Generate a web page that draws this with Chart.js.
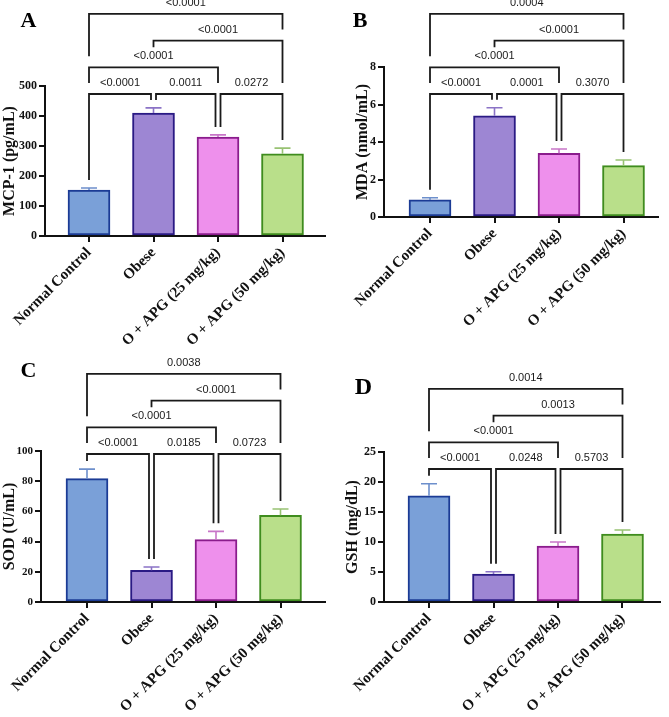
<!DOCTYPE html>
<html>
<head>
<meta charset="utf-8">
<script src="https://cdn.jsdelivr.net/npm/chart.js@4.4.1/dist/chart.umd.min.js"></script>
<style>
  html, body { margin: 0; padding: 0; background: #fff; }
  #wrap { position: relative; width: 669px; height: 717px; overflow: hidden; }
  #wrap canvas { position: absolute; }
</style>
</head>
<body>
<div id="wrap">
  <canvas id="chartA" width="335" height="360" style="left:0;top:0;width:335px;height:360px"></canvas>
  <canvas id="chartB" width="334" height="360" style="left:335px;top:0;width:334px;height:360px"></canvas>
  <canvas id="chartC" width="335" height="377" style="left:0;top:340px;width:335px;height:377px"></canvas>
  <canvas id="chartD" width="334" height="377" style="left:335px;top:340px;width:334px;height:377px"></canvas>
</div>
<script>
// groups (same for all four panels)
const groups = ['Normal Control', 'Obese', 'O + APG (25 mg/kg)', 'O + APG (50 mg/kg)'];

// mean and SEM
const mcpMean = [153, 410, 330, 274];
const mcpErr = [7, 17, 7, 19];
const mdaMean = [0.91, 5.40, 3.40, 2.74];
const mdaErr = [0.12, 0.43, 0.23, 0.30];
const sodMean = [81.7, 21, 41.3, 57.4];
const sodErr = [6.3, 2.2, 5.5, 4.2];
const gshMean = [17.7, 4.67, 9.33, 11.3];
const gshErr = [2.0, 0.38, 0.67, 0.7];

// pairwise comparisons (group index pairs) and how high each bracket sits
const comparisons = [[0, 1], [1, 2], [2, 3], [0, 2], [1, 3], [0, 3]];
const bracketLevel = [0, 0, 0, 1, 2, 3];
const mcpP = ['<0.0001', '0.0011', '0.0272', '<0.0001', '<0.0001', '<0.0001'];
const mdaP = ['<0.0001', '0.0001', '0.3070', '<0.0001', '<0.0001', '0.0004'];
const sodP = ['<0.0001', '0.0185', '0.0723', '<0.0001', '<0.0001', '0.0038'];
const gshP = ['<0.0001', '0.0248', '0.5703', '<0.0001', '0.0013', '0.0014'];

// styles
const fillColors = ['#7aa0d8', '#9d86d3', '#ee90ec', '#b9df8a'];
const edgeColors = ['#1b3b95', '#2a1a84', '#8a1c8c', '#3f8c1e'];
const errColors = ['#6d8fcc', '#8b73c6', '#c875c8', '#98c273'];
const serif = '"Liberation Serif", "Times New Roman", serif';
const ink = '#111';

// brackets, error bars and panel letter
const sigPlugin = {
  id: 'sig',
  afterDatasetsDraw(chart, args, opts) {
    const ctx = chart.ctx;
    const meta = chart.getDatasetMeta(0);
    const ys = chart.scales.y;
    const xs = meta.data.map(b => b.x);
    const errTops = opts.means.map((m, i) => ys.getPixelForValue(m + opts.errs[i]));
    ctx.save();

    // error bars (upper half only)
    meta.data.forEach((bar, i) => {
      ctx.strokeStyle = errColors[i];
      ctx.lineWidth = 1.6;
      ctx.beginPath();
      ctx.moveTo(bar.x, bar.y);
      ctx.lineTo(bar.x, errTops[i]);
      ctx.moveTo(bar.x - 8, errTops[i]);
      ctx.lineTo(bar.x + 8, errTops[i]);
      ctx.stroke();
    });

    ctx.font = '11px "Liberation Sans", Arial, sans-serif';
    const items = comparisons.map(([a, b], k) => {
      const lv = bracketLevel[k];
      const y = opts.base - lv * 26.7;
      let x1 = xs[a], x2 = xs[b];
      comparisons.forEach(([c, d], m) => {
        if (m === k || bracketLevel[m] !== lv) return;
        if (d === a) x1 += 2.5;
        if (c === b) x2 -= 2.5;
      });
      const text = opts.p[k];
      return { a, b, lv, y, x1, x2, text, tx: (x1 + x2) / 2, ty: y - 11, tw: ctx.measureText(text).width };
    });

    // a leg stops just above whatever lies under it
    const legEnd = (it, x, idx) => {
      let best = errTops[idx] - 8;
      items.forEach(o => {
        if (o.lv >= it.lv) return;
        if (x >= o.x1 - 4 && x <= o.x2 + 4) best = Math.min(best, o.y - 11);
        if (Math.abs(x - o.tx) < o.tw / 2 + 2) best = Math.min(best, o.ty - 9);
      });
      return best;
    };

    ctx.strokeStyle = '#1a1a1a';
    ctx.lineWidth = 1.8;
    ctx.fillStyle = '#1a1a1a';
    ctx.textAlign = 'center';
    ctx.textBaseline = 'middle';
    items.forEach(it => {
      ctx.beginPath();
      ctx.moveTo(it.x1, legEnd(it, it.x1, it.a));
      ctx.lineTo(it.x1, it.y);
      ctx.lineTo(it.x2, it.y);
      ctx.lineTo(it.x2, legEnd(it, it.x2, it.b));
      ctx.stroke();
      ctx.fillText(it.text, it.tx, it.ty);
    });

    // panel letter
    ctx.fillStyle = '#000';
    ctx.font = 'bold ' + opts.letterSize + 'px ' + serif;
    ctx.fillText(opts.letter, opts.letterX, opts.letterY);
    ctx.restore();
  }
};

function makePanel(id, panel) {
  const canvas = document.getElementById(id);
  const W = canvas.width, H = canvas.height;
  const sp = 64.5;
  const xMin = -(panel.c0 - panel.left) / sp;
  const xMax = 3 + (panel.right - panel.c0 - 3 * sp) / sp;
  const axisGrid = { display: true, offset: false, drawOnChartArea: false, drawTicks: true, tickLength: 6, color: ink, lineWidth: 2 };
  const axisBorder = { display: true, color: ink, width: 2 };

  return new Chart(canvas.getContext('2d'), {
    type: 'bar',
    data: {
      datasets: [{
        data: panel.means.map((v, i) => ({ x: i, y: v })),
        backgroundColor: fillColors,
        borderColor: edgeColors,
        borderWidth: 2,
        borderSkipped: false,
        barThickness: 42
      }]
    },
    options: {
      responsive: false,
      animation: false,
      layout: { padding: { left: 0, top: panel.top, right: W - panel.right, bottom: 0 } },
      plugins: {
        legend: { display: false },
        tooltip: { enabled: false },
        sig: {
          means: panel.means, errs: panel.errs, p: panel.p, base: panel.base,
          letter: panel.letter, letterX: panel.letterX, letterY: panel.letterY, letterSize: panel.letterSize
        }
      },
      scales: {
        x: {
          type: 'linear',
          offset: false,
          min: xMin,
          max: xMax,
          afterBuildTicks: s => { s.ticks = groups.map((g, i) => ({ value: i })); },
          afterFit: s => { s.height = H - panel.bottom; },
          ticks: {
            autoSkip: false,
            minRotation: 45,
            maxRotation: 45,
            padding: 2,
            color: ink,
            font: { family: serif, size: 15, weight: 'bold' },
            callback: v => groups[v]
          },
          grid: axisGrid,
          border: axisBorder
        },
        y: {
          min: 0,
          max: panel.yMax,
          afterFit: s => { s.width = panel.left; },
          ticks: {
            stepSize: panel.step,
            padding: 2,
            color: ink,
            font: { family: serif, size: panel.tickSize, weight: 'bold' }
          },
          grid: axisGrid,
          border: axisBorder,
          title: {
            display: true,
            text: panel.title,
            color: ink,
            padding: { top: panel.titlePad, bottom: 0 },
            font: { family: serif, size: 16, weight: 'bold' }
          }
        }
      }
    },
    plugins: [sigPlugin]
  });
}

makePanel('chartA', {
  means: mcpMean, errs: mcpErr, p: mcpP, title: 'MCP-1 (pg/mL)', yMax: 500, step: 100, tickSize: 12,
  left: 45, right: 325, top: 86, bottom: 236, c0: 89, base: 94, titlePad: 0,
  letter: 'A', letterX: 28.5, letterY: 21, letterSize: 22
});
makePanel('chartB', {
  means: mdaMean, errs: mdaErr, p: mdaP, title: 'MDA (nmol/mL)', yMax: 8, step: 2, tickSize: 12,
  left: 49, right: 323, top: 67, bottom: 217, c0: 95, base: 94, titlePad: 18,
  letter: 'B', letterX: 25, letterY: 21, letterSize: 22
});
makePanel('chartC', {
  means: sodMean, errs: sodErr, p: sodP, title: 'SOD (U/mL)', yMax: 100, step: 20, tickSize: 11,
  left: 41, right: 325, top: 111, bottom: 262, c0: 87, base: 114, titlePad: 0,
  letter: 'C', letterX: 28.5, letterY: 31, letterSize: 22
});
makePanel('chartD', {
  means: gshMean, errs: gshErr, p: gshP, title: 'GSH (mg/dL)', yMax: 25, step: 5, tickSize: 12,
  left: 49, right: 325, top: 112, bottom: 262, c0: 94, base: 129, titlePad: 8,
  letter: 'D', letterX: 28.5, letterY: 48, letterSize: 24
});
</script>
</body>
</html>
